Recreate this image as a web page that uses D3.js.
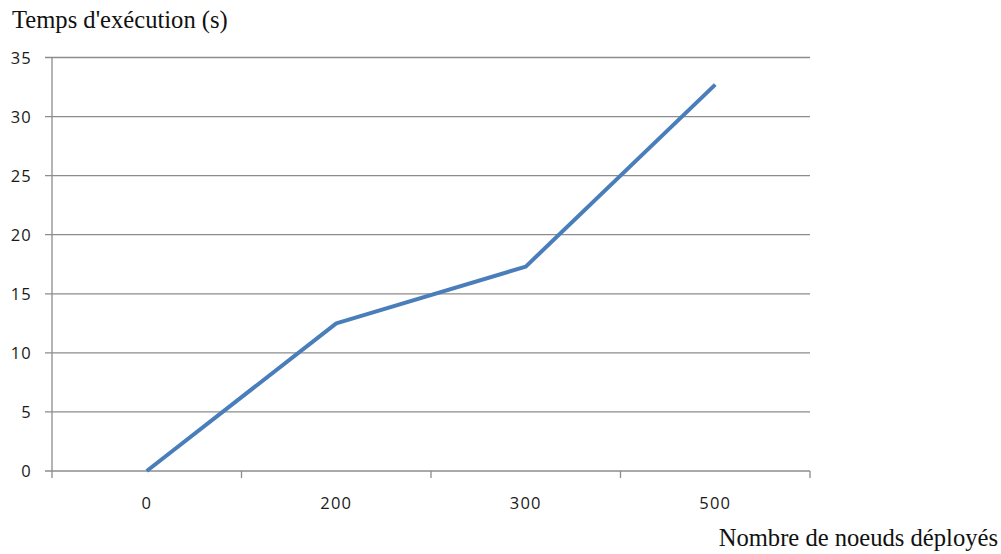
<!DOCTYPE html>
<html><head><meta charset="utf-8">
<script src="https://cdn.jsdelivr.net/npm/d3@7/dist/d3.min.js"></script>
<style>body{margin:0;background:#fff}</style>
</head><body>
<svg id="c" width="1001" height="554"></svg>
<script>
const categories = ["0", "200", "300", "500"];
const values = [0, 12.5, 17.3, 32.7];
const yTicks = [0, 5, 10, 15, 20, 25, 30, 35];
const yTitle = "Temps d'exécution (s)";
const xTitle = "Nombre de noeuds déployés";

const svg = d3.select("#c");
const L = 52, R = 810, T = 57.5, B = 471;
const x = d3.scaleBand().domain(categories).range([L, R]);
const y = d3.scaleLinear().domain([0, 35]).range([B, T]);

const grid = "#8c8c8c";
svg.append("g").selectAll("line").data(yTicks).join("line")
  .attr("x1", L - 7).attr("x2", R).attr("y1", d => y(d)).attr("y2", d => y(d))
  .attr("stroke", grid).attr("stroke-width", 1.3);
svg.append("line").attr("x1", L).attr("x2", L).attr("y1", T).attr("y2", B + 7)
  .attr("stroke", grid).attr("stroke-width", 1.3);
svg.append("g").selectAll("line").data(categories).join("line")
  .attr("x1", d => x(d) + x.bandwidth()).attr("x2", d => x(d) + x.bandwidth())
  .attr("y1", B).attr("y2", B + 7).attr("stroke", grid).attr("stroke-width", 1.3);

const tickFont = "Open Sans, Noto Sans, sans-serif";
svg.append("g").selectAll("text").data(yTicks).join("text")
  .attr("x", 32).attr("y", d => y(d) + 6).attr("text-anchor", "end")
  .attr("font-family", tickFont).attr("font-size", 16.5).attr("letter-spacing", 1.2)
  .attr("fill", "#1a1a1a").text(d => d);
svg.append("g").selectAll("text").data(categories).join("text")
  .attr("x", d => x(d) + x.bandwidth() / 2).attr("y", 509).attr("text-anchor", "middle")
  .attr("font-family", tickFont).attr("font-size", 16.5).attr("letter-spacing", 1.2)
  .attr("fill", "#1a1a1a").text(d => d);

const line = d3.line().x((d, i) => x(categories[i]) + x.bandwidth() / 2).y(d => y(d));
svg.append("path").datum(values).attr("d", line).attr("fill", "none")
  .attr("stroke", "#4a7ebb").attr("stroke-width", 4).attr("stroke-linejoin", "round");

svg.append("text").attr("x", 12).attr("y", 28)
  .attr("font-family", "Liberation Serif, Times New Roman, serif").attr("font-size", 24.6)
  .attr("fill", "#111").text(yTitle);
svg.append("text").attr("x", 998).attr("y", 546).attr("text-anchor", "end")
  .attr("font-family", "Liberation Serif, Times New Roman, serif").attr("font-size", 24.6)
  .attr("fill", "#111").text(xTitle);
</script>
</body></html>
